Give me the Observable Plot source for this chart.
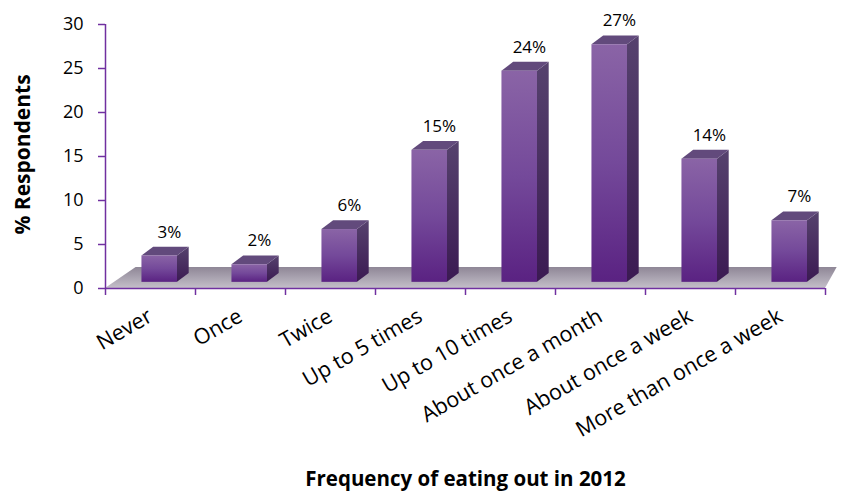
<!DOCTYPE html>
<html>
<head>
<meta charset="utf-8">
<script src="https://cdn.jsdelivr.net/npm/d3@7"></script>
<script src="https://cdn.jsdelivr.net/npm/@observablehq/plot@0.6"></script>
<style>
  html, body { margin: 0; padding: 0; background: #fff; overflow: hidden; }
  #chart svg { display: block; }
</style>
</head>
<body>
<div id="chart"></div>
<script>
// ---- data ----
const categories = ["Never", "Once", "Twice", "Up to 5 times", "Up to 10 times",
  "About once a month", "About once a week", "More than once a week"];
const values = [3, 2, 6, 15, 24, 27, 14, 7];
const yTicks = [0, 5, 10, 15, 20, 25, 30];
const xTitle = "Frequency of eating out in 2012";
const yTitle = "% Respondents";

// ---- 3D look (in data units) ----
const purple = "#7030a0";
const faceLeft = 0.405, faceRight = 0.80;   // front face within the category slot
const base = 0.7;                           // bars stand on the floor's middle
const depthX = 0.13, depthY = 1.0;          // oblique depth of a bar
const floorDepth = 2.4, floorBackLeft = 0.34, floorBackRight = 0.13;

const bars = values.map((v, i) => ({i, cat: categories[i], v,
  x1: i + faceLeft, x2: i + faceRight, y1: base, y2: base + v}));
const sideFaces = bars.flatMap(b => [
  {i: b.i, x: b.x2, y1: b.y1, y2: b.y2},
  {i: b.i, x: b.x2 + depthX, y1: b.y1 + depthY, y2: b.y2 + depthY}]);
const topFaces = bars.flatMap(b => [
  {i: b.i, y: b.y2, x1: b.x1, x2: b.x2},
  {i: b.i, y: b.y2 + depthY, x1: b.x1 + depthX, x2: b.x2 + depthX}]);
const n = categories.length;
const floor = [
  {y: 0, x1: 0, x2: n},
  {y: floorDepth, x1: floorBackLeft, x2: n + floorBackRight}];
const centers = categories.map((c, i) => i + 0.5);
const slotEdges = d3.range(n + 1);

const chart = Plot.plot({
  width: 843,
  height: 492,
  marginLeft: 105,
  marginRight: 18,
  marginTop: 24,
  marginBottom: 204,
  style: {fontFamily: "'Open Sans', sans-serif", fontSize: "18px", color: "#000", background: "#fff"},
  x: {domain: [0, n], axis: null},
  y: {domain: [0, 30], axis: null},
  marks: [
    Plot.areaX(floor, {y: "y", x1: "x1", x2: "x2", fill: "url(#floorGrad)"}),
    Plot.areaY(sideFaces, {x: "x", y1: "y1", y2: "y2", z: "i", fill: "url(#sideGrad)"}),
    Plot.areaX(topFaces, {y: "y", x1: "x1", x2: "x2", z: "i", fill: "#624a7c"}),
    Plot.rect(bars, {x1: "x1", x2: "x2", y1: "y1", y2: "y2", fill: "url(#frontGrad)"}),
    Plot.ruleY([0], {x1: 0, x2: n, stroke: purple, strokeWidth: 1.5}),
    Plot.ruleX([0], {y1: 0, y2: 30, stroke: purple, strokeWidth: 1.5}),
    Plot.axisY(yTicks, {tickSize: 7, tickPadding: 15, stroke: purple, strokeWidth: 1.5, fill: "#000", fontSize: 18, label: null}),
    Plot.axisX(slotEdges, {tickSize: 7, stroke: purple, strokeWidth: 1.5, tickFormat: () => "", label: null}),
    Plot.axisX(centers, {tickSize: 0, tickPadding: 26, tickRotate: -30, fontSize: 21.5, fill: "#000",
      tickFormat: d => categories[Math.floor(d)], label: null}),
    Plot.text(bars, {x: d => d.i + 0.71, y: d => d.y2 + depthY, text: d => d.v + "%", dy: -15, fontSize: 17, fill: "#000"}),
    Plot.text([xTitle], {frameAnchor: "bottom", dy: 197, lineAnchor: "bottom", textAnchor: "middle", text: d => d, fontWeight: "bold", fontSize: 20.5, fill: "#000"}),
    Plot.text([yTitle], {frameAnchor: "left", dx: -82, dy: -2, rotate: -90, textAnchor: "middle", text: d => d, fontWeight: "bold", fontSize: 21, fill: "#000"})
  ]
});

// gradients used by the faces
const ns = "http://www.w3.org/2000/svg";
const defs = document.createElementNS(ns, "defs");
function grad(id, stops) {
  const g = document.createElementNS(ns, "linearGradient");
  g.setAttribute("id", id);
  g.setAttribute("x1", "0"); g.setAttribute("y1", "0");
  g.setAttribute("x2", "0"); g.setAttribute("y2", "1");
  for (const [o, c] of stops) {
    const s = document.createElementNS(ns, "stop");
    s.setAttribute("offset", o); s.setAttribute("stop-color", c);
    g.appendChild(s);
  }
  defs.appendChild(g);
}
grad("frontGrad", [["0", "#8a64a6"], ["0.5", "#74499a"], ["1", "#5a2282"]]);
grad("sideGrad", [["0", "#56426e"], ["1", "#3b1a52"]]);
grad("floorGrad", [["0", "#8e8696"], ["1", "#c4bfc9"]]);
chart.insertBefore(defs, chart.firstChild);

document.getElementById("chart").appendChild(chart);
</script>
</body>
</html>
